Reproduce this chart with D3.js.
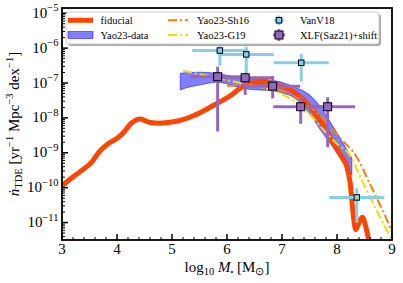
<!DOCTYPE html>
<html><head><meta charset="utf-8">
<script src="https://cdn.jsdelivr.net/npm/d3@7"></script>
<style>body{margin:0;background:#fff}svg{display:block}text{font-family:"Liberation Serif","Times New Roman",serif;fill:#000}</style>
</head><body><svg id="c" width="403" height="283"></svg>
<script>
// ---- data (log10 M_BH, log10 rate [yr^-1 Mpc^-3 dex^-1]) ----
const fidLogM = [3.0,3.15,3.33,3.54,3.69,3.84,3.99,4.1,4.27,4.42,4.6,4.78,5.0,5.2,5.4,5.63,5.8,5.93,6.1,6.24,6.4,6.54,6.7,6.85,7.0,7.21,7.45,7.69,7.87,8.0,8.1,8.18,8.24,8.3,8.34,8.4,8.46,8.52,8.6];
const fidLogRate = [-9.95,-9.75,-9.54,-9.27,-8.95,-8.74,-8.6,-8.45,-8.14,-8.03,-8.13,-8.15,-8.12,-8.05,-7.93,-7.75,-7.6,-7.49,-7.32,-7.15,-7.03,-6.97,-6.97,-7.03,-7.1,-7.25,-7.58,-8.06,-8.54,-8.9,-9.15,-9.4,-9.87,-10.83,-11.2,-11.0,-10.85,-11.1,-11.7];

const bandLogM = [5.15,5.3,5.5,5.8,6.0,6.2,6.4,6.6,6.8,7.0,7.2,7.5,7.7,7.93,8.1,8.27];
const bandLo = [-7.2,-7.12,-7.06,-6.98,-7.02,-7.12,-7.18,-7.2,-7.22,-7.28,-7.4,-7.87,-8.35,-8.85,-9.25,-9.64];
const bandHi = [-6.72,-6.7,-6.69,-6.72,-6.78,-6.85,-6.88,-6.88,-6.92,-6.98,-7.1,-7.34,-7.68,-8.25,-8.7,-9.15];

const sh16LogM = [6.0,6.3,6.6,7.0,7.3,7.6,7.9,8.1,8.35,8.6,8.98,9.0];
const sh16LogRate = [-7.08,-7.08,-7.1,-7.22,-7.45,-7.8,-8.3,-8.65,-9.1,-9.9,-11.2,-11.28];

const g19LogM = [5.2,5.6,6.0,6.4,6.8,7.0,7.2,7.5,7.8,8.0,8.2,8.5,8.9,9.0];
const g19LogRate = [-6.65,-6.78,-6.92,-7.05,-7.2,-7.32,-7.5,-7.9,-8.42,-8.75,-9.0,-9.95,-11.2,-11.5];

const vanLogM = [5.87,6.35,7.35,8.36];
const vanLogRate = [-6.07,-6.18,-6.42,-10.28];
const vanLo = [-6.5,-6.77,-6.96,-11.0];
const vanHi = [-5.95,-5.96,-6.17,-10.02];
const vanXerr = [0.5,0.5,0.5,0.5];

const xlfLogM = [5.83,6.33,6.83,7.34,7.83];
const xlfLogRate = [-6.82,-6.85,-7.09,-7.68,-7.68];
const xlfLo = [-8.39,-7.34,-7.44,-8.17,-8.84];
const xlfHi = [-6.53,-6.71,-6.8,-7.39,-7.41];
const xlfXerr = [0.5,0.5,0.5,0.5,0.5];

const xTicks = [3,4,5,6,7,8,9];
const yTickExp = [-5,-6,-7,-8,-9,-10,-11];
const legendLabels = ["fiducial","Yao23-data","Yao23-Sh16","Yao23-G19","VanV18","XLF(Saz21)+shift"];

// ---- colours ----
const cFid = "#ff4500", cBand = "#0000ff", cSh = "#ff8000", cG = "#ffd700", cVan = "#87ceeb", cXlf = "#9467bd";

const svg = d3.select("#c");
const L = 62, R = 392, T = 8, B = 240;
const x = d3.scaleLinear().domain([3,9]).range([L,R]);
const y = d3.scaleLog().domain([Math.pow(10,-11.5), Math.pow(10,-4.85)]).range([B,T]);
const p10 = v => Math.pow(10, v);

svg.append("defs").append("clipPath").attr("id","clip")
  .append("rect").attr("x",L).attr("y",T).attr("width",R-L).attr("height",B-T);
const plot = svg.append("g").attr("clip-path","url(#clip)");

// band
const band = bandLogM.map((m,i)=>({m, lo:bandLo[i], hi:bandHi[i]}));
plot.append("path").datum(band)
  .attr("d", d3.area().x(d=>x(d.m)).y0(d=>y(p10(d.lo))).y1(d=>y(p10(d.hi))).curve(d3.curveMonotoneX))
  .attr("fill", cBand).attr("fill-opacity",0.5).attr("stroke",cBand).attr("stroke-opacity",0.5).attr("stroke-width",1);

// lines
const line = d3.line().x(d=>x(d[0])).y(d=>y(p10(d[1]))).curve(d3.curveMonotoneX);
plot.append("path").datum(fidLogM.map((m,i)=>[m,fidLogRate[i]]))
  .attr("d", line).attr("fill","none").attr("stroke",cFid).attr("stroke-width",5).attr("stroke-linejoin","round").attr("stroke-linecap","round");
plot.append("path").datum(sh16LogM.map((m,i)=>[m,sh16LogRate[i]]))
  .attr("d", line).attr("fill","none").attr("stroke",cSh).attr("stroke-width",2).attr("stroke-dasharray","9,3,2,3");
plot.append("path").datum(g19LogM.map((m,i)=>[m,g19LogRate[i]]))
  .attr("d", line).attr("fill","none").attr("stroke",cG).attr("stroke-width",2).attr("stroke-dasharray","9,3,2,3");

// error bars
function errbars(ms, vs, los, his, xe, color, size) {
  const g = plot.append("g");
  ms.forEach((m,i)=>{
    g.append("line").attr("x1",x(m-xe[i])).attr("x2",x(m+xe[i])).attr("y1",y(p10(vs[i]))).attr("y2",y(p10(vs[i])))
      .attr("stroke",color).attr("stroke-width",3);
    g.append("line").attr("x1",x(m)).attr("x2",x(m)).attr("y1",y(p10(los[i]))).attr("y2",y(p10(his[i])))
      .attr("stroke",color).attr("stroke-width",3);
  });
  ms.forEach((m,i)=>{
    g.append("rect").attr("x",x(m)-size/2).attr("y",y(p10(vs[i]))-size/2).attr("width",size).attr("height",size)
      .attr("fill",color).attr("stroke","#000").attr("stroke-width",1);
  });
}
errbars(vanLogM, vanLogRate, vanLo, vanHi, vanXerr, cVan, 5.5);
errbars(xlfLogM, xlfLogRate, xlfLo, xlfHi, xlfXerr, cXlf, 8);

// ticks
const ax = svg.append("g");
xTicks.forEach(t=>{
  ax.append("line").attr("x1",x(t)).attr("x2",x(t)).attr("y1",B).attr("y2",B-6).attr("stroke","#000").attr("stroke-width",1.5);
  ax.append("text").attr("x",x(t)).attr("y",254).attr("text-anchor","middle").attr("font-size",15).text(t);
});
d3.range(3,9.001,0.2).forEach(t=>{
  if (Math.abs(t-Math.round(t))<1e-6) return;
  ax.append("line").attr("x1",x(t)).attr("x2",x(t)).attr("y1",B).attr("y2",B-3).attr("stroke","#000").attr("stroke-width",1);
});
yTickExp.forEach(e=>{
  const yy = y(p10(e));
  ax.append("line").attr("x1",L).attr("x2",L+6).attr("y1",yy).attr("y2",yy).attr("stroke","#000").attr("stroke-width",1.5);
  const t = ax.append("text").attr("x",58.5).attr("y",yy+4.5).attr("text-anchor","end").attr("font-size",15);
  t.append("tspan").text("10");
  t.append("tspan").attr("font-size",10.5).attr("dy",-6.5).text("\u2212"+Math.abs(e));
});
for (let e=-12; e<=-5; e++) for (let k=2;k<=9;k++){
  const v = k*p10(e);
  if (v < y.domain()[0] || v > y.domain()[1]) continue;
  const yy = y(v);
  ax.append("line").attr("x1",L).attr("x2",L+3).attr("y1",yy).attr("y2",yy).attr("stroke","#000").attr("stroke-width",1);
}

// frame
svg.append("rect").attr("x",L).attr("y",T).attr("width",R-L).attr("height",B-T)
  .attr("fill","none").attr("stroke","#000").attr("stroke-width",1.8);

// axis labels
const xl = svg.append("text").attr("x",227).attr("y",272).attr("text-anchor","middle").attr("font-size",15);
xl.append("tspan").text("log");
xl.append("tspan").attr("font-size",10.5).attr("dy",3).text("10");
xl.append("tspan").attr("dy",-3).attr("font-style","italic").text(" M");
xl.append("tspan").attr("font-size",8).attr("dy",3).text("\u2022");
xl.append("tspan").attr("dy",-3).text(" [M");
xl.append("tspan").attr("font-size",10.5).attr("dy",3).text("\u2299");
xl.append("tspan").attr("dy",-3).text("]");

const yl = svg.append("text").attr("transform","translate(19,124) rotate(-90)").attr("text-anchor","middle").attr("font-size",15);
yl.append("tspan").attr("font-style","italic").text("\u1e45");
yl.append("tspan").attr("font-size",10.5).attr("dy",3).text("TDE");
yl.append("tspan").attr("dy",-3).text(" [yr");
yl.append("tspan").attr("font-size",10.5).attr("dy",-6).text("\u22121");
yl.append("tspan").attr("dy",6).text(" Mpc");
yl.append("tspan").attr("font-size",10.5).attr("dy",-6).text("\u22123");
yl.append("tspan").attr("dy",6).text(" dex");
yl.append("tspan").attr("font-size",10.5).attr("dy",-6).text("\u22121");
yl.append("tspan").attr("dy",6).text("]");

// legend
const lg = svg.append("g");
lg.append("rect").attr("x",68).attr("y",14).attr("width",313).attr("height",32).attr("rx",3).attr("fill","#000").attr("fill-opacity",0.35);
lg.append("rect").attr("x",66).attr("y",12).attr("width",313).attr("height",32).attr("rx",3).attr("fill","#fff").attr("stroke","#ccc").attr("stroke-width",1);
const r1 = 20.3, r2 = 35;
lg.append("line").attr("x1",68).attr("x2",93).attr("y1",r1).attr("y2",r1).attr("stroke",cFid).attr("stroke-width",5);
lg.append("rect").attr("x",68).attr("y",r2-3.5).attr("width",25).attr("height",7).attr("fill",cBand).attr("fill-opacity",0.5).attr("stroke",cBand).attr("stroke-opacity",0.5);
lg.append("line").attr("x1",168).attr("x2",188).attr("y1",r1).attr("y2",r1).attr("stroke",cSh).attr("stroke-width",2).attr("stroke-dasharray","9,3,2,3");
lg.append("line").attr("x1",168).attr("x2",188).attr("y1",r2).attr("y2",r2).attr("stroke",cG).attr("stroke-width",2).attr("stroke-dasharray","9,3,2,3");
[[r1,cVan,5.5],[r2,cXlf,8]].forEach(([ry,c,s])=>{
  lg.append("line").attr("x1",279-s/2-2).attr("x2",279+s/2+2).attr("y1",ry).attr("y2",ry).attr("stroke",c).attr("stroke-width",3);
  lg.append("line").attr("x1",279).attr("x2",279).attr("y1",ry-s/2-2).attr("y2",ry+s/2+2).attr("stroke",c).attr("stroke-width",3);
  lg.append("rect").attr("x",279-s/2).attr("y",ry-s/2).attr("width",s).attr("height",s).attr("fill",c).attr("stroke","#000");
});
const lpos = [[100.5,r1],[100.5,r2],[197,r1],[197,r2],[300,r1],[300,r2]];
legendLabels.forEach((s,i)=>{
  lg.append("text").attr("x",lpos[i][0]).attr("y",lpos[i][1]+3.6).attr("font-size",10.5).text(s);
});
</script></body></html>
